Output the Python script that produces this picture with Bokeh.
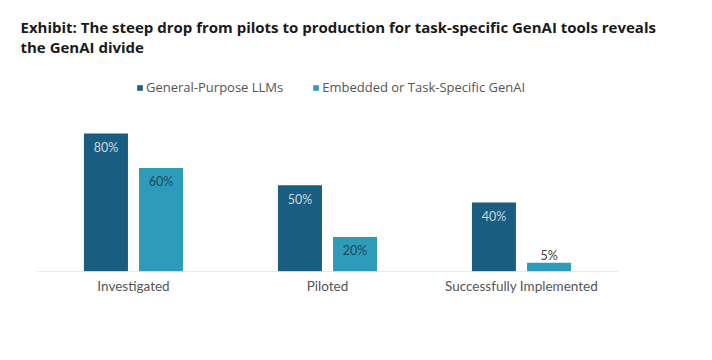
from bokeh.plotting import figure
from bokeh.models import ColumnDataSource, Range1d, LabelSet, Label, Legend, LegendItem, FixedTicker
from bokeh.core.properties import value
from bokeh.embed import file_html
from bokeh.resources import INLINE

categories = ["Investigated", "Piloted", "Successfully Implemented"]
general_purpose = [80, 50, 40]
task_specific = [60, 20, 5]
series_names = ["General-Purpose LLMs", "Embedded or Task-Specific GenAI"]
title_lines = ["Exhibit: The steep drop from pilots to production for task-specific GenAI tools reveals",
               "the GenAI divide"]

DARK = "#195e80"
LIGHT = "#2e9bbb"
FONT = "Lato"
TFONT = "Open Sans"
OFF = 0.142
BW = 0.227

W, H = 704, 352
p = figure(width=W, height=H, x_range=Range1d(-0.1856, 3.4433), y_range=Range1d(0, 157.1),
           output_backend="svg", toolbar_location=None, y_axis_location=None,
           min_border_left=0, min_border_right=0, min_border_top=0, min_border_bottom=81,
           outline_line_color=None)
p.xgrid.grid_line_color = None
p.ygrid.grid_line_color = None

centers = [i + 0.5 for i in range(len(categories))]
src = ColumnDataSource(dict(
    xg=[c - OFF for c in centers], xt=[c + OFF for c in centers],
    gp=general_purpose, ts=task_specific,
))

r1 = p.vbar(x="xg", top="gp", width=BW, source=src, fill_color=DARK, line_color=None)
r2 = p.vbar(x="xt", top="ts", width=BW, source=src, fill_color=LIGHT, line_color=None)

# baseline
p.segment(x0=[0], x1=[len(categories)], y0=[0], y1=[0], line_color="#d6d6d6", line_width=1)

# value labels
gp_src = ColumnDataSource(dict(x=[c - OFF for c in centers], y=general_purpose,
                               t=[f"{v}%" for v in general_purpose]))
p.add_layout(LabelSet(x="x", y="y", text="t", source=gp_src,
                      y_offset=-14, text_align="center", text_baseline="middle",
                      text_font=value(FONT), text_font_size=value("12.5px"), text_color="#c9d9e2"))
ts_in = [(c + OFF, v) for c, v in zip(centers, task_specific) if v >= 10]
ts_out = [(c + OFF, v) for c, v in zip(centers, task_specific) if v < 10]
src_in = ColumnDataSource(dict(x=[a for a, _ in ts_in], y=[v for _, v in ts_in],
                               t=[f"{v}%" for _, v in ts_in]))
src_out = ColumnDataSource(dict(x=[a for a, _ in ts_out], y=[v for _, v in ts_out],
                                t=[f"{v}%" for _, v in ts_out]))
p.add_layout(LabelSet(x="x", y="y", text="t", source=src_in,
                      y_offset=-14, text_align="center", text_baseline="middle",
                      text_font=value(FONT), text_font_size=value("12.5px"), text_color="#1d4a60"))
p.add_layout(LabelSet(x="x", y="y", text="t", source=src_out,
                      y_offset=7, text_align="center", text_baseline="middle",
                      text_font=value(FONT), text_font_size=value("12.5px"), text_color="#444444"))

# axis
ax = p.xaxis[0]
ax.ticker = FixedTicker(ticks=centers)
ax.major_label_overrides = {c: name for c, name in zip(centers, categories)}
ax.axis_line_color = None
ax.major_tick_line_color = None
ax.minor_tick_line_color = None
ax.major_label_text_font = FONT
ax.major_label_text_font_size = "13.5px"
ax.major_label_text_color = "#555555"
ax.major_label_standoff = 0

# title
for i, line in enumerate(title_lines):
    p.add_layout(Label(x=20, y=245 - 20 * i, x_units="screen", y_units="screen", text=line,
                       text_font=TFONT, text_font_style="bold", text_font_size="15px",
                       text_color="#1a1a1a", text_baseline="middle", text_align="left"))

legend = Legend(items=[LegendItem(label=series_names[0], renderers=[r1]),
                       LegendItem(label=series_names[1], renderers=[r2])],
                location=(136, 175), orientation="horizontal",
                glyph_width=7, glyph_height=7, label_standoff=3, spacing=29,
                padding=0, margin=0, border_line_color=None, background_fill_alpha=0,
                label_text_font=TFONT, label_text_font_size="13px", label_text_color="#555555",
                label_height=14)
p.add_layout(legend)

open("out.html", "w").write(file_html(p, INLINE))
